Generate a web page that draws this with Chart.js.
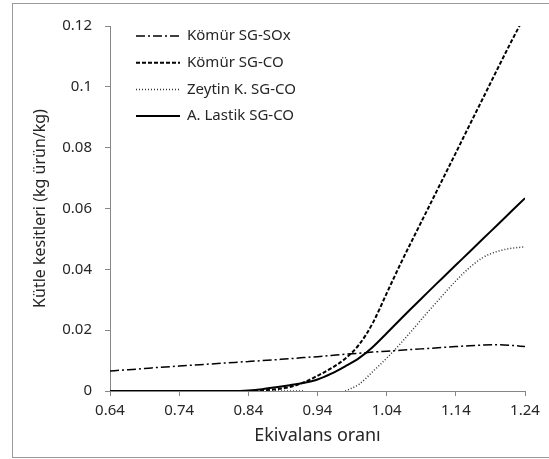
<!DOCTYPE html>
<html>
<head>
<meta charset="utf-8">
<script src="https://cdn.jsdelivr.net/npm/chart.js@4.4.1/dist/chart.umd.min.js"></script>
<style>
  html, body { margin: 0; padding: 0; background: #fff; }
  #wrap { position: relative; width: 549px; height: 459px; overflow: hidden; }
  #frame { position: absolute; left: 12px; top: 3px; width: 540px; height: 455px; border: 1px solid #9a9a9a; box-sizing: border-box; }
  canvas { position: absolute; left: 0; top: 0; }
</style>
</head>
<body>
<div id="wrap">
  <div id="frame"></div>
  <canvas id="chart" width="549" height="459"></canvas>
</div>
<script>
// equivalence ratio (x) and mass fractions (y)
var ratios = [0.64, 0.66, 0.68, 0.70, 0.72, 0.74, 0.76, 0.78, 0.80, 0.82,
  0.84, 0.86, 0.88, 0.90, 0.92, 0.94, 0.96, 0.98, 1.00, 1.02,
  1.04, 1.06, 1.08, 1.10, 1.12, 1.14, 1.16, 1.18, 1.20, 1.22, 1.24];

var komurSOx = [0.0066, 0.0069, 0.0072, 0.0076, 0.0079, 0.0082, 0.0085, 0.0088, 0.0091, 0.0094,
  0.0097, 0.0100, 0.0103, 0.0106, 0.0110, 0.0113, 0.0117, 0.0121, 0.0124, 0.0128,
  0.0131, 0.0134, 0.0137, 0.0140, 0.0143, 0.0146, 0.0149, 0.0151, 0.0152, 0.0150, 0.0146];

var komurCO = [0, 0, 0, 0, 0, 0, 0, 0, 0, 0,
  0.0000, 0.0002, 0.0006, 0.0013, 0.0028, 0.0050, 0.0075, 0.0106, 0.0152, 0.0224,
  0.0321, 0.0418, 0.0510, 0.0601, 0.0692, 0.0783, 0.0875, 0.0966, 0.1058, 0.1148, 0.1235];

var zeytinCO = [0, 0, 0, 0, 0, 0, 0, 0, 0, 0,
  0, 0, 0, 0, 0, null, null, 0, 0.0022, 0.0064,
  0.0108, 0.0156, 0.0208, 0.0261, 0.0312, 0.0362, 0.0406, 0.0440, 0.0459, 0.0469, 0.0474];

var lastikCO = [0, 0, 0, 0, 0, 0, 0, 0, 0, 0,
  0.0002, 0.0006, 0.0012, 0.0019, 0.0027, 0.0038, 0.0057, 0.0081, 0.0108, 0.0145,
  0.0190, 0.0236, 0.0281, 0.0326, 0.0370, 0.0414, 0.0458, 0.0502, 0.0546, 0.0590, 0.0634];

var seriesNames = ['Kömür SG-SOx', 'Kömür SG-CO', 'Zeytin K. SG-CO', 'A. Lastik SG-CO'];

var xTicks = [0.64, 0.74, 0.84, 0.94, 1.04, 1.14, 1.24];
var yTicks = [0, 0.02, 0.04, 0.06, 0.08, 0.1, 0.12];
var yTickLabels = ['0', '0.02', '0.04', '0.06', '0.08', '0.1', '0.12'];

var TEXT = '#262626';
var AXIS = '#868686';

function points(ys) {
  return ys.map(function (y, i) {
    return { x: ratios[i], y: y };
  });
}

function line(label, ys, width, dash, color) {
  return {
    label: label,
    data: points(ys),
    borderColor: color,
    borderWidth: width,
    borderDash: dash,
    pointRadius: 0,
    fill: false,
    cubicInterpolationMode: 'monotone',
    spanGaps: false
  };
}

// legend drawn inside the plot area, top-left
var insideLegend = {
  id: 'insideLegend',
  afterDatasetsDraw: function (chart) {
    var ctx = chart.ctx;
    var area = chart.chartArea;
    ctx.save();
    chart.data.datasets.forEach(function (ds, i) {
      var y = area.top + 10 + i * 26.7;
      ctx.beginPath();
      ctx.setLineDash(ds.borderDash || []);
      ctx.lineWidth = ds.borderWidth;
      ctx.strokeStyle = ds.borderColor;
      ctx.moveTo(area.left + 26, y);
      ctx.lineTo(area.left + 70, y);
      ctx.stroke();
      ctx.setLineDash([]);
      ctx.fillStyle = TEXT;
      ctx.font = '15px "Noto Sans"';
      ctx.textBaseline = 'middle';
      ctx.textAlign = 'left';
      ctx.fillText(ds.label, area.left + 77, y);
    });
    ctx.restore();
  }
};

Chart.defaults.font.family = '"Noto Sans", sans-serif';
Chart.defaults.color = TEXT;

new Chart(document.getElementById('chart').getContext('2d'), {
  type: 'line',
  data: {
    datasets: [
      line(seriesNames[0], komurSOx, 1.5, [9, 3, 2, 3], '#000'),
      line(seriesNames[1], komurCO, 2, [4, 2], '#000'),
      line(seriesNames[2], zeytinCO, 1.5, [1, 2], '#333'),
      line(seriesNames[3], lastikCO, 2, [], '#000')
    ]
  },
  options: {
    responsive: false,
    animation: false,
    layout: { padding: { top: 26, right: 24, bottom: 0, left: 0 } },
    plugins: {
      legend: { display: false },
      tooltip: { enabled: false }
    },
    scales: {
      x: {
        type: 'linear',
        min: 0.64,
        max: 1.24,
        afterBuildTicks: function (scale) {
          scale.ticks = xTicks.map(function (v) { return { value: v }; });
        },
        afterFit: function (scale) { scale.height = 68; },
        ticks: {
          font: { size: 15 },
          color: TEXT,
          padding: 6,
          maxRotation: 0,
          callback: function (v) { return Number(v).toFixed(2); }
        },
        grid: { drawOnChartArea: false, tickLength: 5, color: AXIS },
        border: { color: AXIS },
        title: {
          display: true,
          text: 'Ekivalans oranı',
          font: { size: 18 },
          color: TEXT,
          padding: { top: 0, bottom: 12 }
        }
      },
      y: {
        min: 0,
        max: 0.12,
        afterBuildTicks: function (scale) {
          scale.ticks = yTicks.map(function (v) { return { value: v }; });
        },
        afterFit: function (scale) { scale.width = 110; },
        ticks: {
          font: { size: 15 },
          color: TEXT,
          padding: 13,
          callback: function (v, i) { return yTickLabels[i]; }
        },
        grid: { drawOnChartArea: false, tickLength: 5, color: AXIS },
        border: { color: AXIS },
        title: {
          display: true,
          text: 'Kütle kesitleri (kg ürün/kg)',
          font: { size: 16 },
          color: TEXT,
          padding: { top: 31, bottom: 0 }
        }
      }
    }
  },
  plugins: [insideLegend]
});
</script>
</body>
</html>
